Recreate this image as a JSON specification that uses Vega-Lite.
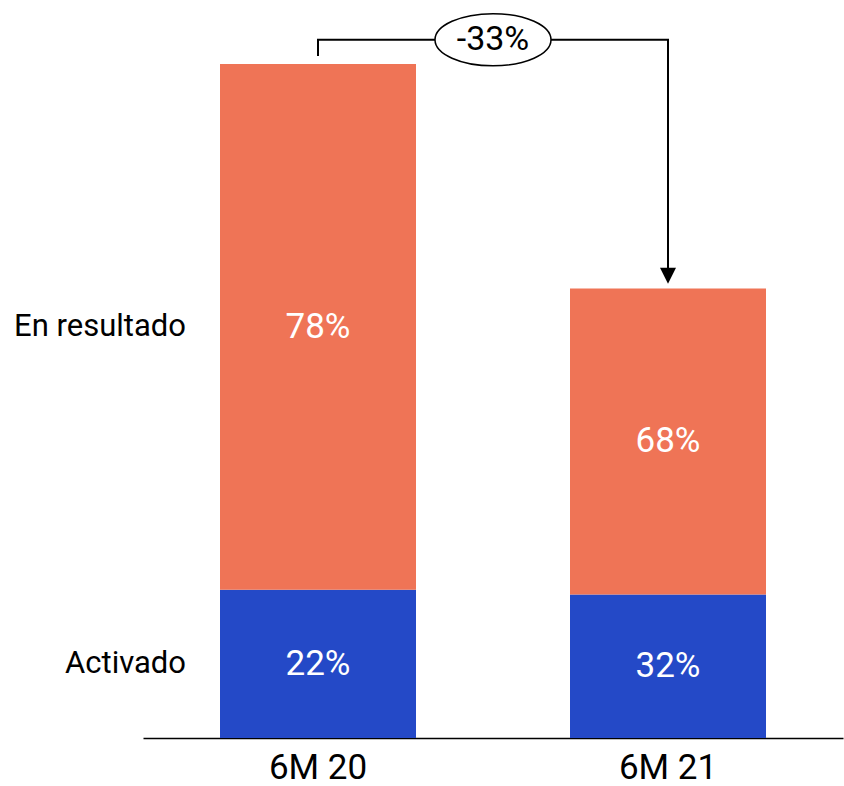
{
  "$schema": "https://vega.github.io/schema/vega-lite/v6.json",
  "width": 700,
  "height": 674,
  "autosize": {"type": "none"},
  "padding": {"left": 143, "top": 64, "right": 1, "bottom": 48},
  "background": "white",
  "config": {"view": {"stroke": null}, "font": "Roboto"},
  "datasets": {
    "shares": [
      {"period": "6M 20", "segment": "Activado", "ord": 1, "value": 22, "pct": "22%"},
      {"period": "6M 20", "segment": "En resultado", "ord": 2, "value": 78, "pct": "78%"},
      {"period": "6M 21", "segment": "Activado", "ord": 1, "value": 21.3, "pct": "32%"},
      {"period": "6M 21", "segment": "En resultado", "ord": 2, "value": 45.4, "pct": "68%"}
    ],
    "bracket": [
      {"period": "6M 20", "v": 101.2, "k": 1},
      {"period": "6M 20", "v": 103.6, "k": 2},
      {"period": "6M 21", "v": 103.6, "k": 3},
      {"period": "6M 21", "v": 69.6, "k": 4}
    ],
    "arrow": [{"period": "6M 21", "v": 68.6}],
    "change": [{"period": "6M 20", "v": 103.6, "label": "-33%"}]
  },
  "layer": [
    {
      "data": {"name": "shares"},
      "mark": {"type": "bar", "width": {"band": 0.56}},
      "encoding": {
        "x": {
          "field": "period",
          "type": "nominal",
          "scale": {"type": "band", "paddingInner": 0, "paddingOuter": 0},
          "axis": {
            "title": null,
            "labelAngle": 0,
            "ticks": false,
            "domainColor": "#000000",
            "domainWidth": 1.5,
            "labelFontSize": 35,
            "labelColor": "#000000",
            "labelPadding": 12,
            "labelFont": "Roboto"
          }
        },
        "y": {
          "field": "value",
          "type": "quantitative",
          "stack": "zero",
          "scale": {"domain": [0, 100], "nice": false, "zero": true},
          "axis": null
        },
        "color": {
          "field": "segment",
          "type": "nominal",
          "scale": {"domain": ["Activado", "En resultado"], "range": ["#2449C7", "#EF7456"]},
          "legend": null
        },
        "order": {"field": "ord", "type": "quantitative"}
      }
    },
    {
      "data": {"name": "shares"},
      "mark": {"type": "text", "color": "#ffffff", "fontSize": 35, "baseline": "middle", "align": "center"},
      "encoding": {
        "x": {"field": "period", "type": "nominal"},
        "y": {"field": "value", "type": "quantitative", "stack": "zero", "bandPosition": 0.5},
        "detail": {"field": "segment"},
        "order": {"field": "ord", "type": "quantitative"},
        "text": {"field": "pct"}
      }
    },
    {
      "data": {"name": "shares"},
      "transform": [{"filter": "datum.period === '6M 20'"}],
      "mark": {"type": "text", "color": "#000000", "fontSize": 31, "baseline": "middle", "align": "right", "dx": 43},
      "encoding": {
        "x": {"field": "period", "type": "nominal", "bandPosition": 0},
        "y": {"field": "value", "type": "quantitative", "stack": "zero", "bandPosition": 0.5},
        "detail": {"field": "segment"},
        "order": {"field": "ord", "type": "quantitative"},
        "text": {"field": "segment"}
      }
    },
    {
      "data": {"name": "bracket"},
      "mark": {"type": "line", "color": "#000000", "strokeWidth": 2, "strokeJoin": "miter"},
      "encoding": {
        "x": {"field": "period", "type": "nominal"},
        "y": {"field": "v", "type": "quantitative"},
        "order": {"field": "k", "type": "quantitative"}
      }
    },
    {
      "data": {"name": "arrow"},
      "mark": {"type": "point", "shape": "M -1 -1 L 1 -1 L 0 1 Z", "size": 256, "filled": true, "color": "#000000", "opacity": 1},
      "encoding": {
        "x": {"field": "period", "type": "nominal"},
        "y": {"field": "v", "type": "quantitative"}
      }
    },
    {
      "data": {"name": "change"},
      "mark": {
        "type": "point",
        "shape": "M -1 0 A 1 0.45 0 1 0 1 0 A 1 0.45 0 1 0 -1 0 Z",
        "size": 13456,
        "fill": "#ffffff",
        "stroke": "#000000",
        "strokeWidth": 1.5,
        "opacity": 1,
        "fillOpacity": 1
      },
      "encoding": {
        "x": {"field": "period", "type": "nominal", "bandPosition": 1},
        "y": {"field": "v", "type": "quantitative"}
      }
    },
    {
      "data": {"name": "change"},
      "mark": {"type": "text", "color": "#000000", "fontSize": 34, "baseline": "middle", "align": "center"},
      "encoding": {
        "x": {"field": "period", "type": "nominal", "bandPosition": 1},
        "y": {"field": "v", "type": "quantitative"},
        "text": {"field": "label"}
      }
    }
  ]
}
